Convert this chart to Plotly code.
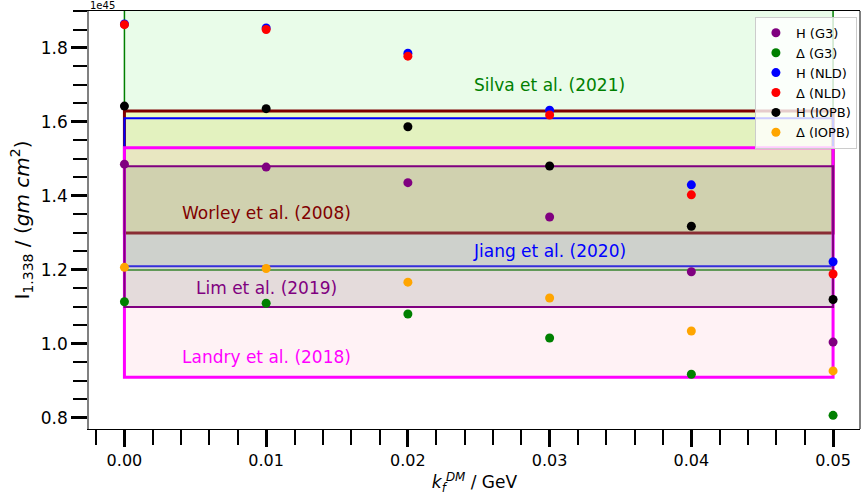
import plotly.graph_objects as go

# Dark-matter Fermi momentum (GeV)
kf_dm = [0.00, 0.01, 0.02, 0.03, 0.04, 0.05]

# Moment of inertia I_1.338 in units of 1e45 gm cm^2
h_g3 = [1.486, 1.478, 1.436, 1.343, 1.195, 1.005]
d_g3 = [1.114, 1.110, 1.081, 1.016, 0.918, 0.807]
h_nld = [1.865, 1.854, 1.786, 1.632, 1.430, 1.222]
d_nld = [1.863, 1.850, 1.778, 1.619, 1.403, 1.189]
h_iopb = [1.643, 1.636, 1.587, 1.481, 1.318, 1.120]
d_iopb = [1.207, 1.204, 1.167, 1.124, 1.035, 0.927]

series_names = ["H (G3)", "Δ (G3)", "H (NLD)", "Δ (NLD)", "H (IOPB)", "Δ (IOPB)"]
series_values = [h_g3, d_g3, h_nld, d_nld, h_iopb, d_iopb]
series_colors = ["#800080", "#008000", "#0000ff", "#ff0000", "#000000", "#ffa500"]

# Constraint bands
band_labels = ["Silva et al. (2021)", "Worley et al. (2008)", "Jiang et al. (2020)",
               "Landry et al. (2018)", "Lim et al. (2019)"]
band_low = [1.20, 1.30, 1.21, 0.91, 1.10]
band_high = [2.00, 1.63, 1.61, 1.53, 1.48]
band_edge = ["#008000", "#800000", "#0000ff", "#ff00ff", "#800080"]
band_width = [1.5, 3, 2, 3, 2]
band_fill = ["rgba(144,238,144,0.2)", "rgba(255,255,0,0.19)", "rgba(0,0,255,0.04)",
             "rgba(255,192,203,0.2)", "rgba(75,87,76,0.15)"]
label_x = [0.03, 0.01, 0.03, 0.01, 0.01]
label_y = [1.70, 1.353, 1.251, 0.964, 1.152]
label_colors = ["#008000", "#800000", "#0000ff", "#ff00ff", "#800080"]

FONT = "DejaVu Sans"

fig = go.Figure()

for name, vals, col in zip(series_names, series_values, series_colors):
    fig.add_trace(go.Scatter(
        x=kf_dm, y=vals, mode="markers", name=name,
        marker=dict(color=col, size=9, line=dict(width=0)),
    ))

for lo, hi, ec, ew, fc in zip(band_low, band_high, band_edge, band_width, band_fill):
    fig.add_shape(type="rect", xref="x", yref="y",
                  x0=kf_dm[0], x1=kf_dm[-1], y0=lo, y1=hi,
                  line=dict(color=ec, width=ew), fillcolor=fc, layer="below")

for txt, lx, ly, lc in zip(band_labels, label_x, label_y, label_colors):
    fig.add_annotation(x=lx, y=ly, text=txt, showarrow=False,
                       xanchor="center", yanchor="middle",
                       font=dict(family=FONT, size=17, color=lc))

# exponent offset shown above the y axis
fig.add_annotation(xref="paper", yref="paper", x=0, y=1, text="1e45",
                   showarrow=False, xanchor="left", yanchor="bottom",
                   borderpad=0, yshift=-1, font=dict(family=FONT, size=10, color="black"))

# right frame edge
fig.add_shape(type="line", xref="paper", yref="paper", x0=1, x1=1, y0=0, y1=1,
              line=dict(color="black", width=1))

fig.update_layout(
    width=862, height=495,
    margin=dict(l=89, r=2, t=11, b=66),
    plot_bgcolor="white", paper_bgcolor="white",
    font=dict(family=FONT, color="black"),
    showlegend=True,
    legend=dict(x=0.996, y=0.986, xanchor="right", yanchor="top",
                bgcolor="rgba(255,255,255,0.8)", bordercolor="#cccccc", borderwidth=1,
                font=dict(family=FONT, size=13), tracegroupgap=0),
)

fig.update_xaxes(
    range=[-0.0025, 0.0519], showgrid=False, zeroline=False,
    showline=True, linecolor="black", linewidth=1, mirror=True,
    ticks="outside", ticklen=17, tickwidth=3, tickcolor="black",
    tickvals=kf_dm, ticktext=[f"{v:.2f}" for v in kf_dm],
    tickfont=dict(family=FONT, size=16),
    minor=dict(dtick=0.002, tick0=0, ticks="outside", ticklen=15, tickwidth=2, tickcolor="black"),
    title=dict(text="<i>k<sub>f</sub></i><sup><i>DM</i></sup> / GeV",
               font=dict(family=FONT, size=17), standoff=8),
)

fig.update_yaxes(
    range=[0.77, 1.9], showgrid=False, zeroline=False,
    showline=True, linecolor="#808080", linewidth=1.5, mirror=False,
    ticks="outside", ticklen=16, tickwidth=3, tickcolor="black",
    tickvals=[0.8, 1.0, 1.2, 1.4, 1.6, 1.8],
    ticktext=["0.8", "1.0", "1.2", "1.4", "1.6", "1.8"],
    tickfont=dict(family=FONT, size=17),
    minor=dict(dtick=0.05, tick0=0.8, ticks="outside", ticklen=14, tickwidth=2, tickcolor="black"),
    title=dict(text="I<sub>1.338</sub> / (<i>gm cm</i><sup>2</sup>)",
               font=dict(family=FONT, size=20), standoff=6),
)

fig.write_html("out.html")
